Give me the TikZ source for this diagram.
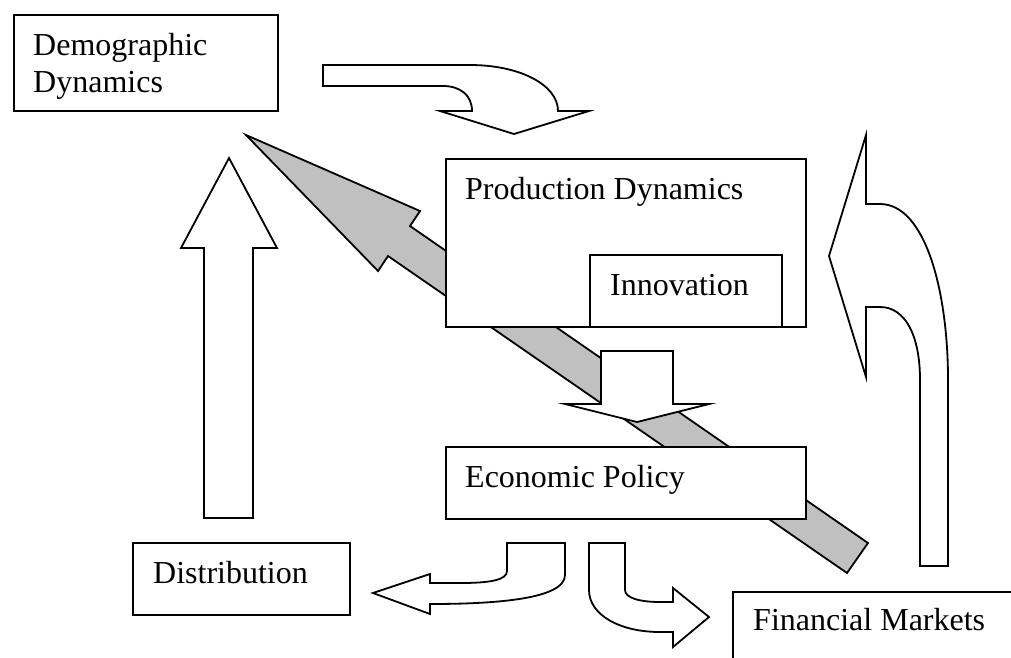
\documentclass[tikz,border=0pt]{standalone}
\usepackage{fontspec}
\setmainfont{Liberation Serif}
\definecolor{flowgray}{RGB}{192,192,192}

\begin{document}
\begin{tikzpicture}[x=1pt, y=-1pt,
  dbox/.style={rectangle, draw, fill=white, line width=1.8pt,
               anchor=north west, inner sep=0pt},
  lbl/.style={inner sep=0pt, anchor=base west, align=left,
              font=\fontsize{32}{37}\selectfont},
  barr/.style={draw, fill=white, line width=1.8pt},
  garr/.style={barr, fill=flowgray}
]
\useasboundingbox (0,0) rectangle (1011,657);
\clip (0,0) rectangle (1011,657);

% Demographic box
\node[dbox, minimum width=264pt, minimum height=96pt] (demo) at (13,14) {};
\node[lbl, anchor=west] (demotxt) at (33,66) {Demographic\\Dynamics};

% Curved arrow towards production
\draw[barr] (323,65) -- (470,65) .. controls (520,65) and (558,85) .. (558,111)
  -- (589,111) -- (514,134) -- (440,111) -- (472,111)
  .. controls (472,95) and (460,86) .. (443,86) -- (323,86) -- cycle;

% Straight arrow up from distribution
\draw[barr] (204,518) -- (204,248) -- (181,248) -- (229,158) -- (277,248)
  -- (253,248) -- (253,518) -- cycle;

% Grey feedback arrow (lies under the boxes)
\draw[garr] (246,135) -- (420,211) -- (410,226) -- (868,543) -- (847,573)
  -- (388,256) -- (378,271) -- cycle;

% Production and innovation
\node[dbox, minimum width=360pt, minimum height=168pt] (prod) at (445,158) {};
\node[lbl] (prodtxt) at (465,199) {Production Dynamics};
\node[dbox, minimum width=192pt, minimum height=72pt] (innov) at (589,254) {};
\node[lbl] (innovtxt) at (610,295) {Innovation};

% Arrow down to policy
\draw[barr] (601,351) -- (673,351) -- (673,404) -- (709,404) -- (637,422)
  -- (565,404) -- (601,404) -- cycle;

% Economic policy
\node[dbox, minimum width=360pt, minimum height=72pt] (econ) at (445,446) {};
\node[lbl] (econtxt) at (465,487) {Economic Policy};

% Bent arrows out of policy
\draw[barr] (565,543) -- (565,575) .. controls (565,600) and (490,604) .. (430,604)
  -- (430,614) -- (373,593) -- (430,574) -- (430,583) -- (460,583)
  .. controls (490,583) and (507,580) .. (507,571) -- (507,543) -- cycle;
\draw[barr] (589,543) -- (625,543) -- (625,590)
  .. controls (625,598) and (640,602) .. (660,602) -- (673,602) -- (673,588)
  -- (709,617) -- (673,647) -- (673,632) -- (660,632)
  .. controls (620,632) and (589,615) .. (589,590) -- cycle;

% Distribution and financial markets
\node[dbox, minimum width=217pt, minimum height=72pt] (distr) at (132,542) {};
\node[lbl] (distrtxt) at (153,583) {Distribution};
\node[dbox, minimum width=320pt, minimum height=80pt] (fin) at (732,591) {};
\node[lbl] (fintxt) at (753,630) {Financial Markets};

% Curved arrow back up to production
\draw[barr] (829,256) -- (866,135) -- (866,204) -- (880,204)
  .. controls (925,204) and (948,290) .. (948,380) -- (948,566) -- (920,566)
  -- (920,380) .. controls (920,335) and (905,307) .. (880,307) -- (866,307)
  -- (866,377) -- cycle;
\end{tikzpicture}
\end{document}
